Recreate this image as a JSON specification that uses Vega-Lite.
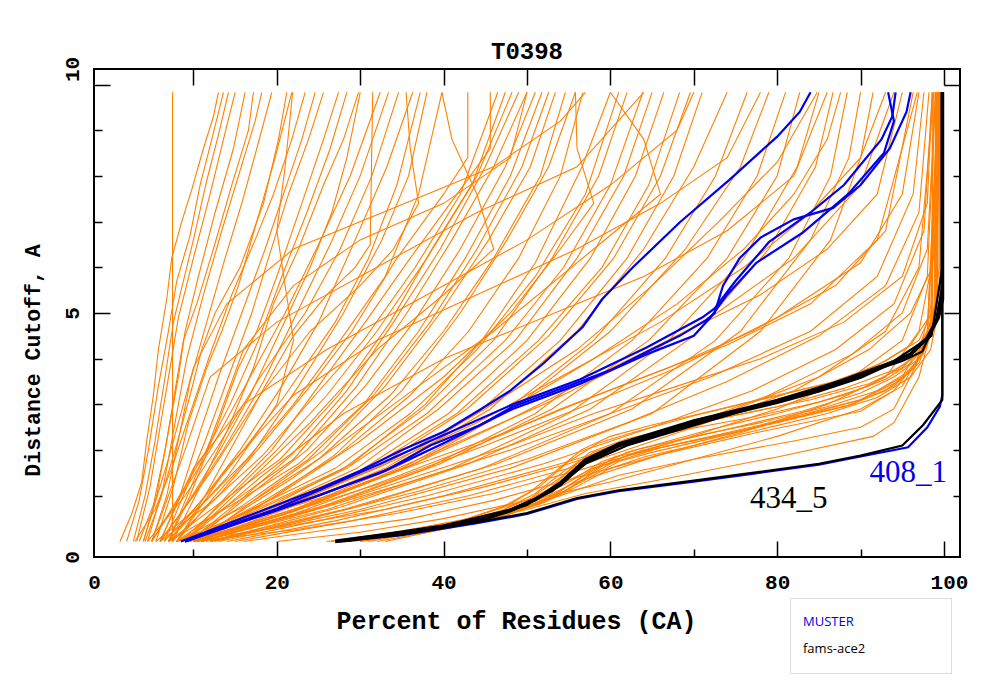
{
"$schema":"https://vega.github.io/schema/vega-lite/v6.json",
"autosize":{"type":"none"},
"padding":{"left":94,"top":69,"right":40,"bottom":143},
"width":866,"height":488,
"title":{"text":"T0398","font":"Liberation Mono","fontSize":24,"fontWeight":"bold","anchor":"middle","baseline":"alphabetic","offset":9,"dy":36,"color":"black"},
"config":{"view":{"stroke":"black","strokeWidth":2},"axis":{"labelFont":"Liberation Mono","titleFont":"Liberation Mono","labelColor":"black","titleColor":"black"}},
"datasets":{
"orange":[
{"s":"L1","x":7.5,"y":0},{"s":"L1","x":7.5,"y":9.83},
{"s":"L2","x":1.2,"y":0},{"s":"L2","x":2.6,"y":0.6},{"s":"L2","x":3.8,"y":1.3},{"s":"L2","x":4.4,"y":2.2},{"s":"L2","x":5.2,"y":3.2},{"s":"L2","x":5.8,"y":4.2},{"s":"L2","x":6.8,"y":5.3},{"s":"L2","x":7.4,"y":6.2},{"s":"L2","x":8.6,"y":7.0},{"s":"L2","x":9.8,"y":7.7},{"s":"L2","x":11.2,"y":8.6},{"s":"L2","x":12.4,"y":9.3},{"s":"L2","x":13,"y":9.83},
{"s":"L3","x":2,"y":0},{"s":"L3","x":3.5,"y":0.9},{"s":"L3","x":4.6,"y":2},{"s":"L3","x":5.8,"y":3.4},{"s":"L3","x":7,"y":4.6},{"s":"L3","x":8,"y":5.7},{"s":"L3","x":9.6,"y":6.7},{"s":"L3","x":10.8,"y":7.8},{"s":"L3","x":12.2,"y":8.8},{"s":"L3","x":13.6,"y":9.83},
{"s":"L4","x":2.8,"y":0},{"s":"L4","x":4.2,"y":1},{"s":"L4","x":5.4,"y":2.2},{"s":"L4","x":6.6,"y":3.6},{"s":"L4","x":7.6,"y":4.8},{"s":"L4","x":8.4,"y":5.4},{"s":"L4","x":10,"y":6.6},{"s":"L4","x":11.6,"y":7.9},{"s":"L4","x":13,"y":8.9},{"s":"L4","x":14.2,"y":9.83},
{"s":"L5","x":3.2,"y":0},{"s":"L5","x":4.8,"y":1.2},{"s":"L5","x":6,"y":2.5},{"s":"L5","x":7.2,"y":3.8},{"s":"L5","x":8.2,"y":4.9},{"s":"L5","x":10,"y":6.2},{"s":"L5","x":12,"y":7.6},{"s":"L5","x":13.6,"y":8.8},{"s":"L5","x":15,"y":9.83},
{"s":"L6","x":4,"y":0},{"s":"L6","x":5.6,"y":1},{"s":"L6","x":7,"y":2.4},{"s":"L6","x":8.2,"y":3.6},{"s":"L6","x":9,"y":4.6},{"s":"L6","x":10.6,"y":5.8},{"s":"L6","x":12.6,"y":7.2},{"s":"L6","x":14.8,"y":8.6},{"s":"L6","x":16.2,"y":9.83},
{"s":"L7","x":3.5,"y":0},{"s":"L7","x":5.2,"y":0.8},{"s":"L7","x":6.6,"y":2},{"s":"L7","x":7.8,"y":3.3},{"s":"L7","x":8.8,"y":4.4},{"s":"L7","x":10.4,"y":5.2},{"s":"L7","x":12.4,"y":6.4},{"s":"L7","x":14.6,"y":7.8},{"s":"L7","x":16.6,"y":9},{"s":"L7","x":17.2,"y":9.83},
{"s":"L8","x":4.5,"y":0},{"s":"L8","x":6.4,"y":1.2},{"s":"L8","x":7.8,"y":2.6},{"s":"L8","x":9.2,"y":4},{"s":"L8","x":11.2,"y":5.4},{"s":"L8","x":13.4,"y":6.8},{"s":"L8","x":15.4,"y":8},{"s":"L8","x":17.4,"y":9.2},{"s":"L8","x":18.2,"y":9.83},
{"s":"L9","x":5,"y":0},{"s":"L9","x":6.8,"y":1},{"s":"L9","x":8.4,"y":2.4},{"s":"L9","x":9.6,"y":3.5},{"s":"L9","x":11.6,"y":4.8},{"s":"L9","x":13.8,"y":6.2},{"s":"L9","x":15.8,"y":7.4},{"s":"L9","x":17.6,"y":8.6},{"s":"L9","x":19.4,"y":9.83},
{"s":"L10","x":4.2,"y":0},{"s":"L10","x":6,"y":0.9},{"s":"L10","x":7.8,"y":2},{"s":"L10","x":9.6,"y":3.2},{"s":"L10","x":11,"y":4.2},{"s":"L10","x":12.6,"y":5},{"s":"L10","x":15.6,"y":6},{"s":"L10","x":18.4,"y":7.4},{"s":"L10","x":20.2,"y":8.8},{"s":"L10","x":21.2,"y":9.83},
{"s":"L11","x":5.5,"y":0},{"s":"L11","x":7.6,"y":1.2},{"s":"L11","x":9.4,"y":2.6},{"s":"L11","x":11.6,"y":3.8},{"s":"L11","x":13.4,"y":4.6},{"s":"L11","x":15.4,"y":5.6},{"s":"L11","x":17.6,"y":7},{"s":"L11","x":19.8,"y":8.4},{"s":"L11","x":21.8,"y":9.83},
{"s":"L12","x":3,"y":0},{"s":"L12","x":5.4,"y":0.7},{"s":"L12","x":7.4,"y":1.6},{"s":"L12","x":9.6,"y":2.8},{"s":"L12","x":12.2,"y":4.2},{"s":"L12","x":14.6,"y":5.4},{"s":"L12","x":17.4,"y":6.6},{"s":"L12","x":19.6,"y":7.6},{"s":"L12","x":21.8,"y":8.8},{"s":"L12","x":23.4,"y":9.83},
{"s":"L13","x":6,"y":0},{"s":"L13","x":8.4,"y":1},{"s":"L13","x":10.8,"y":2.4},{"s":"L13","x":13,"y":3.6},{"s":"L13","x":15.8,"y":5},{"s":"L13","x":18.6,"y":6.4},{"s":"L13","x":20.8,"y":7.6},{"s":"L13","x":23,"y":8.8},{"s":"L13","x":24.6,"y":9.83},
{"s":"L14","x":6.5,"y":0},{"s":"L14","x":9,"y":1.1},{"s":"L14","x":11.4,"y":2.2},{"s":"L14","x":14.2,"y":3.6},{"s":"L14","x":17,"y":5},{"s":"L14","x":19,"y":6.2},{"s":"L14","x":21.4,"y":7.6},{"s":"L14","x":23.8,"y":8.8},{"s":"L14","x":25.6,"y":9.83},
{"s":"L15","x":7,"y":0},{"s":"L15","x":9.6,"y":1},{"s":"L15","x":12.6,"y":2.4},{"s":"L15","x":15.4,"y":3.8},{"s":"L15","x":17.6,"y":4.6},{"s":"L15","x":20,"y":5.8},{"s":"L15","x":23,"y":7.4},{"s":"L15","x":25.6,"y":8.8},{"s":"L15","x":27.4,"y":9.83},
{"s":"L16","x":5,"y":0},{"s":"L16","x":8,"y":0.9},{"s":"L16","x":11.6,"y":2},{"s":"L16","x":14.4,"y":3},{"s":"L16","x":17.8,"y":4.4},{"s":"L16","x":20.6,"y":5.8},{"s":"L16","x":23.6,"y":7.2},{"s":"L16","x":26.4,"y":8.6},{"s":"L16","x":28.4,"y":9.83},
{"s":"L17","x":7.5,"y":0},{"s":"L17","x":10.8,"y":1.2},{"s":"L17","x":14,"y":2.4},{"s":"L17","x":17.2,"y":3.8},{"s":"L17","x":19.6,"y":5.2},{"s":"L17","x":22.6,"y":6.4},{"s":"L17","x":25.6,"y":7.8},{"s":"L17","x":28,"y":8.8},{"s":"L17","x":29.8,"y":9.83},
{"s":"L18","x":6,"y":0},{"s":"L18","x":9.2,"y":0.8},{"s":"L18","x":13.2,"y":2},{"s":"L18","x":16.8,"y":3.2},{"s":"L18","x":20.4,"y":4.6},{"s":"L18","x":24,"y":6},{"s":"L18","x":26.6,"y":7.2},{"s":"L18","x":28.4,"y":8.4},{"s":"L18","x":30,"y":9.83},
{"s":"L19","x":8,"y":0},{"s":"L19","x":11.4,"y":1},{"s":"L19","x":15,"y":2.2},{"s":"L19","x":18.6,"y":3.4},{"s":"L19","x":22,"y":4.5},{"s":"L19","x":26,"y":5.4},{"s":"L19","x":29.4,"y":6},{"s":"L19","x":31.2,"y":6.5},{"s":"L19","x":31.5,"y":9.83},
{"s":"M1","x":5,"y":0},{"s":"M1","x":8.5,"y":1},{"s":"M1","x":12,"y":2},{"s":"M1","x":16.5,"y":3.5},{"s":"M1","x":21,"y":5},{"s":"M1","x":25,"y":6.5},{"s":"M1","x":28.8,"y":8},{"s":"M1","x":32.4,"y":9.83},
{"s":"M2","x":6,"y":0},{"s":"M2","x":10,"y":1},{"s":"M2","x":13.6,"y":2},{"s":"M2","x":18.4,"y":3.5},{"s":"M2","x":22.4,"y":5},{"s":"M2","x":26.4,"y":6.5},{"s":"M2","x":30,"y":8},{"s":"M2","x":33.4,"y":9.83},
{"s":"M3","x":4.5,"y":0},{"s":"M3","x":9,"y":1},{"s":"M3","x":13,"y":2.1},{"s":"M3","x":18,"y":3.6},{"s":"M3","x":23.4,"y":5},{"s":"M3","x":27.6,"y":6.4},{"s":"M3","x":31.4,"y":8},{"s":"M3","x":34.6,"y":9.83},
{"s":"M4","x":7,"y":0},{"s":"M4","x":11.4,"y":1},{"s":"M4","x":15.6,"y":2},{"s":"M4","x":20.6,"y":3.4},{"s":"M4","x":25,"y":4.8},{"s":"M4","x":29.4,"y":6.6},{"s":"M4","x":33.2,"y":8.2},{"s":"M4","x":36.3,"y":9.83},
{"s":"M5","x":6.5,"y":0},{"s":"M5","x":11,"y":0.9},{"s":"M5","x":16,"y":2},{"s":"M5","x":21,"y":3.2},{"s":"M5","x":27,"y":4.8},{"s":"M5","x":31,"y":6.2},{"s":"M5","x":34.4,"y":7.8},{"s":"M5","x":37.2,"y":9.83},
{"s":"M6","x":8,"y":0},{"s":"M6","x":12.6,"y":1},{"s":"M6","x":17,"y":1.9},{"s":"M6","x":22.6,"y":3.4},{"s":"M6","x":28,"y":5},{"s":"M6","x":32.6,"y":6.6},{"s":"M6","x":35.8,"y":8},{"s":"M6","x":38,"y":9.83},
{"s":"M7","x":5.5,"y":0},{"s":"M7","x":11,"y":0.8},{"s":"M7","x":16.4,"y":1.8},{"s":"M7","x":22,"y":3},{"s":"M7","x":27.6,"y":4.4},{"s":"M7","x":33,"y":5.8},{"s":"M7","x":37,"y":7.6},{"s":"M7","x":39.8,"y":9.83},
{"s":"M8","x":7.5,"y":0},{"s":"M8","x":13,"y":1},{"s":"M8","x":18.6,"y":2.2},{"s":"M8","x":24,"y":3.4},{"s":"M8","x":29,"y":4.6},{"s":"M8","x":34.4,"y":6.2},{"s":"M8","x":40,"y":7.6},{"s":"M8","x":42.9,"y":8.4},{"s":"M8","x":42.9,"y":9.83},
{"s":"M9","x":9,"y":0},{"s":"M9","x":14,"y":1},{"s":"M9","x":19.4,"y":2},{"s":"M9","x":25,"y":3.4},{"s":"M9","x":30.6,"y":4.8},{"s":"M9","x":36,"y":6.2},{"s":"M9","x":41.6,"y":7.6},{"s":"M9","x":45.6,"y":8.6},{"s":"M9","x":45.6,"y":9.83},
{"s":"M10","x":6,"y":0},{"s":"M10","x":12.4,"y":0.9},{"s":"M10","x":18.4,"y":1.9},{"s":"M10","x":24.6,"y":3.2},{"s":"M10","x":30.4,"y":4.4},{"s":"M10","x":36.6,"y":6},{"s":"M10","x":42,"y":7.6},{"s":"M10","x":46.5,"y":9.83},
{"s":"M11","x":8.5,"y":0},{"s":"M11","x":14.4,"y":1},{"s":"M11","x":20,"y":2},{"s":"M11","x":26,"y":3.2},{"s":"M11","x":32,"y":4.6},{"s":"M11","x":38,"y":6.2},{"s":"M11","x":43.4,"y":7.8},{"s":"M11","x":47.4,"y":9.83},
{"s":"M12","x":7,"y":0},{"s":"M12","x":13.6,"y":0.9},{"s":"M12","x":20.4,"y":1.8},{"s":"M12","x":27.4,"y":3.2},{"s":"M12","x":33.6,"y":4.8},{"s":"M12","x":38.6,"y":6.4},{"s":"M12","x":44,"y":8},{"s":"M12","x":48.2,"y":9.83},
{"s":"M13","x":9.5,"y":0},{"s":"M13","x":15.6,"y":0.9},{"s":"M13","x":21.8,"y":1.9},{"s":"M13","x":28.4,"y":3.3},{"s":"M13","x":34,"y":4.8},{"s":"M13","x":39.6,"y":6.4},{"s":"M13","x":45,"y":8.2},{"s":"M13","x":49,"y":9.83},
{"s":"M14","x":8,"y":0},{"s":"M14","x":15,"y":0.9},{"s":"M14","x":22,"y":1.8},{"s":"M14","x":29.6,"y":3.4},{"s":"M14","x":35.6,"y":5},{"s":"M14","x":41,"y":6.6},{"s":"M14","x":46,"y":8.2},{"s":"M14","x":50,"y":9.83},
{"s":"M15","x":10,"y":0},{"s":"M15","x":16.6,"y":1},{"s":"M15","x":23.6,"y":2},{"s":"M15","x":30.6,"y":3.4},{"s":"M15","x":36.4,"y":4.8},{"s":"M15","x":42,"y":6.4},{"s":"M15","x":47.4,"y":8.2},{"s":"M15","x":51,"y":9.83},
{"s":"M16","x":7,"y":0},{"s":"M16","x":14.6,"y":0.8},{"s":"M16","x":22.6,"y":1.7},{"s":"M16","x":30.4,"y":3},{"s":"M16","x":37,"y":4.6},{"s":"M16","x":42.6,"y":6.2},{"s":"M16","x":48,"y":8},{"s":"M16","x":51.8,"y":9.83},
{"s":"M17","x":9,"y":0},{"s":"M17","x":16,"y":0.8},{"s":"M17","x":23.8,"y":1.8},{"s":"M17","x":31.6,"y":3.2},{"s":"M17","x":38.4,"y":4.8},{"s":"M17","x":44,"y":6.4},{"s":"M17","x":49.4,"y":8.2},{"s":"M17","x":52.6,"y":9.83},
{"s":"M18","x":10.5,"y":0},{"s":"M18","x":18,"y":1},{"s":"M18","x":25.6,"y":2},{"s":"M18","x":33,"y":3.4},{"s":"M18","x":39.6,"y":5},{"s":"M18","x":45.4,"y":6.6},{"s":"M18","x":50.4,"y":8.2},{"s":"M18","x":53.4,"y":9.83},
{"s":"M19","x":8,"y":0},{"s":"M19","x":16.4,"y":0.8},{"s":"M19","x":25,"y":1.8},{"s":"M19","x":33.6,"y":3.2},{"s":"M19","x":40,"y":4.6},{"s":"M19","x":46,"y":6.2},{"s":"M19","x":51.6,"y":8},{"s":"M19","x":54.6,"y":9.83},
{"s":"M20","x":11,"y":0},{"s":"M20","x":19,"y":0.9},{"s":"M20","x":27,"y":1.9},{"s":"M20","x":35,"y":3.3},{"s":"M20","x":42,"y":5},{"s":"M20","x":47.6,"y":6.6},{"s":"M20","x":52.6,"y":8.2},{"s":"M20","x":55.8,"y":9.83},
{"s":"M21","x":9.5,"y":0},{"s":"M21","x":18.6,"y":0.9},{"s":"M21","x":27.4,"y":1.9},{"s":"M21","x":36,"y":3.2},{"s":"M21","x":43,"y":4.6},{"s":"M21","x":49,"y":6.2},{"s":"M21","x":54,"y":8},{"s":"M21","x":56.7,"y":9.83},
{"s":"M22","x":10,"y":0},{"s":"M22","x":19.6,"y":0.8},{"s":"M22","x":29,"y":1.7},{"s":"M22","x":37.8,"y":3},{"s":"M22","x":44.6,"y":4.4},{"s":"M22","x":51,"y":6.1},{"s":"M22","x":56.6,"y":8.2},{"s":"M22","x":60,"y":9.83},
{"s":"U1","x":9,"y":0},{"s":"U1","x":18,"y":0.8},{"s":"U1","x":27,"y":1.6},{"s":"U1","x":36,"y":2.8},{"s":"U1","x":44,"y":4.2},{"s":"U1","x":51,"y":5.8},{"s":"U1","x":57,"y":7.6},{"s":"U1","x":61,"y":9.83},
{"s":"U2","x":8,"y":0},{"s":"U2","x":18.6,"y":0.8},{"s":"U2","x":28,"y":1.6},{"s":"U2","x":37.6,"y":2.9},{"s":"U2","x":46,"y":4.4},{"s":"U2","x":53,"y":6.2},{"s":"U2","x":58.6,"y":8},{"s":"U2","x":62,"y":9.83},
{"s":"U3","x":9.5,"y":0},{"s":"U3","x":19,"y":0.8},{"s":"U3","x":28.4,"y":1.6},{"s":"U3","x":38,"y":2.8},{"s":"U3","x":47.4,"y":4.4},{"s":"U3","x":54.4,"y":6},{"s":"U3","x":60,"y":7.8},{"s":"U3","x":63.9,"y":9.83},
{"s":"U4","x":10,"y":0},{"s":"U4","x":20,"y":0.8},{"s":"U4","x":29.6,"y":1.6},{"s":"U4","x":39.4,"y":2.9},{"s":"U4","x":48.6,"y":4.4},{"s":"U4","x":56,"y":6.2},{"s":"U4","x":61.6,"y":8},{"s":"U4","x":65,"y":9.83},
{"s":"U5","x":8.5,"y":0},{"s":"U5","x":19.4,"y":0.75},{"s":"U5","x":30,"y":1.55},{"s":"U5","x":40.6,"y":2.8},{"s":"U5","x":50,"y":4.4},{"s":"U5","x":57.6,"y":6.2},{"s":"U5","x":63,"y":8},{"s":"U5","x":66.4,"y":9.83},
{"s":"U6","x":9,"y":0},{"s":"U6","x":20.4,"y":0.8},{"s":"U6","x":31,"y":1.6},{"s":"U6","x":41.6,"y":2.8},{"s":"U6","x":51.4,"y":4.4},{"s":"U6","x":59,"y":6},{"s":"U6","x":64.6,"y":7.8},{"s":"U6","x":68.3,"y":9.83},
{"s":"U7","x":10,"y":0},{"s":"U7","x":21,"y":0.8},{"s":"U7","x":31.8,"y":1.6},{"s":"U7","x":42.8,"y":2.9},{"s":"U7","x":52.6,"y":4.5},{"s":"U7","x":60.4,"y":6.2},{"s":"U7","x":66,"y":8},{"s":"U7","x":69.6,"y":9.83},
{"s":"U8","x":9,"y":0},{"s":"U8","x":21.4,"y":0.75},{"s":"U8","x":33,"y":1.6},{"s":"U8","x":44,"y":2.8},{"s":"U8","x":54,"y":4.4},{"s":"U8","x":62,"y":6.2},{"s":"U8","x":67.6,"y":8},{"s":"U8","x":71,"y":9.83},
{"s":"U9","x":10.5,"y":0},{"s":"U9","x":22.4,"y":0.8},{"s":"U9","x":34,"y":1.65},{"s":"U9","x":45.6,"y":2.9},{"s":"U9","x":56,"y":4.6},{"s":"U9","x":64,"y":6.4},{"s":"U9","x":70,"y":8.2},{"s":"U9","x":74,"y":9.83},
{"s":"U10","x":9.5,"y":0},{"s":"U10","x":22.8,"y":0.75},{"s":"U10","x":35,"y":1.6},{"s":"U10","x":47,"y":2.8},{"s":"U10","x":58,"y":4.4},{"s":"U10","x":66.6,"y":6.2},{"s":"U10","x":72.6,"y":8},{"s":"U10","x":76.4,"y":9.83},
{"s":"U11","x":11,"y":0},{"s":"U11","x":24,"y":0.8},{"s":"U11","x":36.6,"y":1.7},{"s":"U11","x":49,"y":3},{"s":"U11","x":60,"y":4.6},{"s":"U11","x":69,"y":6.4},{"s":"U11","x":75.6,"y":8.2},{"s":"U11","x":79,"y":9.83},
{"s":"U12","x":10,"y":0},{"s":"U12","x":24.4,"y":0.7},{"s":"U12","x":38,"y":1.6},{"s":"U12","x":51,"y":2.8},{"s":"U12","x":62.6,"y":4.4},{"s":"U12","x":71.6,"y":6.2},{"s":"U12","x":77.6,"y":8},{"s":"U12","x":81,"y":9.83},
{"s":"U13","x":11,"y":0},{"s":"U13","x":25.6,"y":0.75},{"s":"U13","x":39.6,"y":1.7},{"s":"U13","x":53,"y":2.9},{"s":"U13","x":64.6,"y":4.4},{"s":"U13","x":74,"y":6.2},{"s":"U13","x":80,"y":8},{"s":"U13","x":82.7,"y":9.83},
{"s":"U14","x":10.5,"y":0},{"s":"U14","x":26,"y":0.7},{"s":"U14","x":41,"y":1.6},{"s":"U14","x":55,"y":2.8},{"s":"U14","x":67,"y":4.4},{"s":"U14","x":76,"y":6.2},{"s":"U14","x":82.4,"y":8.2},{"s":"U14","x":85,"y":9.83},
{"s":"U15","x":12,"y":0},{"s":"U15","x":27.6,"y":0.75},{"s":"U15","x":43,"y":1.7},{"s":"U15","x":57.6,"y":2.9},{"s":"U15","x":70,"y":4.5},{"s":"U15","x":79,"y":6.4},{"s":"U15","x":84.6,"y":8.2},{"s":"U15","x":86.7,"y":9.83},
{"s":"U16","x":11.5,"y":0},{"s":"U16","x":28,"y":0.7},{"s":"U16","x":44.6,"y":1.6},{"s":"U16","x":60,"y":2.8},{"s":"U16","x":72.6,"y":4.4},{"s":"U16","x":81.4,"y":6.2},{"s":"U16","x":86.4,"y":8},{"s":"U16","x":88.4,"y":9.83},
{"s":"U17","x":12.5,"y":0},{"s":"U17","x":29.4,"y":0.75},{"s":"U17","x":46.4,"y":1.7},{"s":"U17","x":62.6,"y":2.9},{"s":"U17","x":75.6,"y":4.6},{"s":"U17","x":84,"y":6.6},{"s":"U17","x":88.6,"y":8.4},{"s":"U17","x":90,"y":9.83},
{"s":"U18","x":12,"y":0},{"s":"U18","x":30,"y":0.7},{"s":"U18","x":48,"y":1.6},{"s":"U18","x":65,"y":2.8},{"s":"U18","x":78,"y":4.6},{"s":"U18","x":86.4,"y":6.6},{"s":"U18","x":90,"y":8.4},{"s":"U18","x":91.5,"y":9.83},
{"s":"Bl1","x":10,"y":0},{"s":"Bl1","x":20,"y":0.55},{"s":"Bl1","x":33,"y":1.3},{"s":"Bl1","x":45,"y":2.1},{"s":"Bl1","x":56,"y":2.9},{"s":"Bl1","x":68,"y":3.8},{"s":"Bl1","x":80,"y":4.9},{"s":"Bl1","x":90,"y":6.1},{"s":"Bl1","x":95,"y":7.6},{"s":"Bl1","x":97,"y":9.83},
{"s":"Bl2","x":11,"y":0},{"s":"Bl2","x":22,"y":0.55},{"s":"Bl2","x":35,"y":1.25},{"s":"Bl2","x":48,"y":2},{"s":"Bl2","x":60,"y":2.8},{"s":"Bl2","x":72,"y":3.6},{"s":"Bl2","x":84,"y":4.6},{"s":"Bl2","x":92,"y":5.8},{"s":"Bl2","x":96.3,"y":7.6},{"s":"Bl2","x":97.6,"y":9.83},
{"s":"Bl3","x":12,"y":0},{"s":"Bl3","x":24,"y":0.5},{"s":"Bl3","x":37,"y":1.1},{"s":"Bl3","x":50,"y":1.8},{"s":"Bl3","x":62,"y":2.6},{"s":"Bl3","x":74,"y":3.5},{"s":"Bl3","x":85,"y":4.5},{"s":"Bl3","x":93,"y":5.6},{"s":"Bl3","x":97,"y":7.2},{"s":"Bl3","x":98.2,"y":9.83},
{"s":"Bl4","x":13,"y":0},{"s":"Bl4","x":25,"y":0.45},{"s":"Bl4","x":38,"y":1},{"s":"Bl4","x":52,"y":1.7},{"s":"Bl4","x":65,"y":2.5},{"s":"Bl4","x":77,"y":3.3},{"s":"Bl4","x":87,"y":4.2},{"s":"Bl4","x":94,"y":5.2},{"s":"Bl4","x":97.6,"y":6.8},{"s":"Bl4","x":98.6,"y":9.83},
{"s":"Bl5","x":14,"y":0},{"s":"Bl5","x":27,"y":0.45},{"s":"Bl5","x":40,"y":1},{"s":"Bl5","x":54,"y":1.7},{"s":"Bl5","x":67,"y":2.4},{"s":"Bl5","x":79,"y":3.2},{"s":"Bl5","x":89,"y":4.1},{"s":"Bl5","x":95,"y":5},{"s":"Bl5","x":98,"y":6.4},{"s":"Bl5","x":99,"y":9.83},
{"s":"Bl6","x":15,"y":0},{"s":"Bl6","x":29,"y":0.45},{"s":"Bl6","x":43,"y":1},{"s":"Bl6","x":57,"y":1.7},{"s":"Bl6","x":70,"y":2.5},{"s":"Bl6","x":82,"y":3.3},{"s":"Bl6","x":91,"y":4.2},{"s":"Bl6","x":96,"y":5},{"s":"Bl6","x":98.6,"y":6},{"s":"Bl6","x":99.3,"y":9.83},
{"s":"Bl7","x":10,"y":0},{"s":"Bl7","x":21,"y":0.6},{"s":"Bl7","x":32,"y":1.4},{"s":"Bl7","x":42,"y":2.2},{"s":"Bl7","x":52,"y":3},{"s":"Bl7","x":62,"y":3.9},{"s":"Bl7","x":72,"y":4.9},{"s":"Bl7","x":82,"y":6.2},{"s":"Bl7","x":90,"y":7.8},{"s":"Bl7","x":94,"y":9.83},
{"s":"Bl8","x":11,"y":0},{"s":"Bl8","x":22,"y":0.6},{"s":"Bl8","x":34,"y":1.4},{"s":"Bl8","x":44,"y":2.1},{"s":"Bl8","x":54,"y":2.9},{"s":"Bl8","x":64,"y":3.6},{"s":"Bl8","x":74,"y":4.3},{"s":"Bl8","x":84,"y":5.2},{"s":"Bl8","x":92,"y":6.6},{"s":"Bl8","x":96.8,"y":9.83},
{"s":"G1","x":9,"y":0},{"s":"G1","x":20,"y":0.3},{"s":"G1","x":33,"y":0.7},{"s":"G1","x":45,"y":1.2},{"s":"G1","x":55,"y":1.7},{"s":"G1","x":65,"y":2.3},{"s":"G1","x":75,"y":2.9},{"s":"G1","x":85,"y":3.6},{"s":"G1","x":93,"y":4.6},{"s":"G1","x":97,"y":6},{"s":"G1","x":98.8,"y":9.83},
{"s":"G2","x":10,"y":0},{"s":"G2","x":22,"y":0.25},{"s":"G2","x":34,"y":0.6},{"s":"G2","x":46,"y":1.05},{"s":"G2","x":57,"y":1.6},{"s":"G2","x":68,"y":2.2},{"s":"G2","x":80,"y":2.9},{"s":"G2","x":89,"y":3.6},{"s":"G2","x":95,"y":4.4},{"s":"G2","x":98,"y":5.8},{"s":"G2","x":99,"y":9.83},
{"s":"G3","x":16,"y":0},{"s":"G3","x":26,"y":0.25},{"s":"G3","x":36,"y":0.5},{"s":"G3","x":46,"y":0.9},{"s":"G3","x":56,"y":1.4},{"s":"G3","x":66,"y":1.9},{"s":"G3","x":76,"y":2.4},{"s":"G3","x":86,"y":3},{"s":"G3","x":93,"y":3.6},{"s":"G3","x":97,"y":4.6},{"s":"G3","x":99,"y":6.5},{"s":"G3","x":99.4,"y":9.83},
{"s":"G4","x":20,"y":0},{"s":"G4","x":30,"y":0.2},{"s":"G4","x":40,"y":0.5},{"s":"G4","x":50,"y":0.9},{"s":"G4","x":60,"y":1.3},{"s":"G4","x":70,"y":1.8},{"s":"G4","x":80,"y":2.3},{"s":"G4","x":90,"y":2.9},{"s":"G4","x":95,"y":3.4},{"s":"G4","x":98,"y":4.4},{"s":"G4","x":99.5,"y":9.83},
{"s":"G5","x":9,"y":0},{"s":"G5","x":18,"y":0.4},{"s":"G5","x":28,"y":0.9},{"s":"G5","x":38,"y":1.5},{"s":"G5","x":48,"y":2.1},{"s":"G5","x":58,"y":2.8},{"s":"G5","x":68,"y":3.4},{"s":"G5","x":78,"y":4},{"s":"G5","x":88,"y":4.8},{"s":"G5","x":95,"y":5.8},{"s":"G5","x":98,"y":7.4},{"s":"G5","x":98.6,"y":9.83},
{"s":"G6","x":8,"y":0},{"s":"G6","x":17,"y":0.5},{"s":"G6","x":27,"y":1.05},{"s":"G6","x":37,"y":1.7},{"s":"G6","x":47,"y":2.35},{"s":"G6","x":57,"y":3.1},{"s":"G6","x":67,"y":3.8},{"s":"G6","x":77,"y":4.6},{"s":"G6","x":87,"y":5.6},{"s":"G6","x":93,"y":6.8},{"s":"G6","x":96.3,"y":9.83},
{"s":"H1","x":9,"y":0},{"s":"H1","x":20,"y":0.7},{"s":"H1","x":32,"y":1.6},{"s":"H1","x":44,"y":2.6},{"s":"H1","x":56,"y":3.8},{"s":"H1","x":66,"y":4.8},{"s":"H1","x":76,"y":6},{"s":"H1","x":84,"y":7.2},{"s":"H1","x":90,"y":8.4},{"s":"H1","x":93,"y":9.83},
{"s":"H2","x":10,"y":0},{"s":"H2","x":22,"y":0.65},{"s":"H2","x":34,"y":1.5},{"s":"H2","x":46,"y":2.5},{"s":"H2","x":58,"y":3.6},{"s":"H2","x":68,"y":4.5},{"s":"H2","x":78,"y":5.4},{"s":"H2","x":86,"y":6.4},{"s":"H2","x":92,"y":7.6},{"s":"H2","x":95,"y":9.83},
{"s":"H3","x":9,"y":0},{"s":"H3","x":21,"y":0.75},{"s":"H3","x":33,"y":1.7},{"s":"H3","x":45,"y":2.9},{"s":"H3","x":56,"y":4.2},{"s":"H3","x":65,"y":5.6},{"s":"H3","x":73,"y":7},{"s":"H3","x":80,"y":8.3},{"s":"H3","x":84.8,"y":9.83},
{"s":"H4","x":10,"y":0},{"s":"H4","x":22,"y":0.7},{"s":"H4","x":34,"y":1.6},{"s":"H4","x":46,"y":2.7},{"s":"H4","x":58,"y":4},{"s":"H4","x":68,"y":5.2},{"s":"H4","x":76,"y":6.4},{"s":"H4","x":82,"y":7.6},{"s":"H4","x":86,"y":8.8},{"s":"H4","x":87.6,"y":9.83},
{"s":"R1","x":28,"y":0},{"s":"R1","x":36,"y":0.2},{"s":"R1","x":44,"y":0.45},{"s":"R1","x":50,"y":0.75},{"s":"R1","x":54,"y":1.1},{"s":"R1","x":58,"y":1.6},{"s":"R1","x":62,"y":1.95},{"s":"R1","x":66,"y":2.15},{"s":"R1","x":72,"y":2.45},{"s":"R1","x":80,"y":2.8},{"s":"R1","x":88,"y":3.2},{"s":"R1","x":93,"y":3.55},{"s":"R1","x":96,"y":3.9},{"s":"R1","x":98.2,"y":4.4},{"s":"R1","x":99,"y":5},{"s":"R1","x":99,"y":9.83},
{"s":"R2","x":29,"y":0},{"s":"R2","x":37,"y":0.2},{"s":"R2","x":45,"y":0.48},{"s":"R2","x":51,"y":0.8},{"s":"R2","x":55,"y":1.15},{"s":"R2","x":59,"y":1.65},{"s":"R2","x":63,"y":1.95},{"s":"R2","x":68,"y":2.2},{"s":"R2","x":75,"y":2.5},{"s":"R2","x":83,"y":2.85},{"s":"R2","x":90,"y":3.25},{"s":"R2","x":94,"y":3.6},{"s":"R2","x":97,"y":4},{"s":"R2","x":98.6,"y":4.8},{"s":"R2","x":98.6,"y":9.83},
{"s":"R3","x":28.5,"y":0},{"s":"R3","x":38,"y":0.25},{"s":"R3","x":46,"y":0.55},{"s":"R3","x":51,"y":0.9},{"s":"R3","x":55.5,"y":1.35},{"s":"R3","x":59,"y":1.75},{"s":"R3","x":63,"y":2},{"s":"R3","x":70,"y":2.3},{"s":"R3","x":78,"y":2.6},{"s":"R3","x":86,"y":2.95},{"s":"R3","x":92,"y":3.3},{"s":"R3","x":96,"y":3.75},{"s":"R3","x":98,"y":4.3},{"s":"R3","x":99.2,"y":5.4},{"s":"R3","x":99.4,"y":9.83},
{"s":"R4","x":30,"y":0},{"s":"R4","x":39,"y":0.25},{"s":"R4","x":47,"y":0.55},{"s":"R4","x":52,"y":0.85},{"s":"R4","x":56,"y":1.2},{"s":"R4","x":60,"y":1.6},{"s":"R4","x":64,"y":1.85},{"s":"R4","x":70,"y":2.1},{"s":"R4","x":78,"y":2.45},{"s":"R4","x":86,"y":2.8},{"s":"R4","x":92,"y":3.15},{"s":"R4","x":96,"y":3.6},{"s":"R4","x":98.4,"y":4.2},{"s":"R4","x":99.5,"y":5.2},{"s":"R4","x":99.6,"y":9.83},
{"s":"R5","x":27.5,"y":0},{"s":"R5","x":36,"y":0.22},{"s":"R5","x":45,"y":0.52},{"s":"R5","x":50,"y":0.85},{"s":"R5","x":53,"y":1.2},{"s":"R5","x":56,"y":1.7},{"s":"R5","x":60,"y":2.05},{"s":"R5","x":65,"y":2.3},{"s":"R5","x":72,"y":2.65},{"s":"R5","x":80,"y":2.95},{"s":"R5","x":88,"y":3.35},{"s":"R5","x":94,"y":3.75},{"s":"R5","x":97,"y":4.1},{"s":"R5","x":98.8,"y":4.7},{"s":"R5","x":99.4,"y":6},{"s":"R5","x":99.5,"y":9.83},
{"s":"R6","x":31,"y":0},{"s":"R6","x":40,"y":0.3},{"s":"R6","x":48,"y":0.6},{"s":"R6","x":53,"y":0.95},{"s":"R6","x":57,"y":1.35},{"s":"R6","x":61,"y":1.75},{"s":"R6","x":65,"y":1.95},{"s":"R6","x":72,"y":2.25},{"s":"R6","x":80,"y":2.6},{"s":"R6","x":88,"y":2.95},{"s":"R6","x":93,"y":3.3},{"s":"R6","x":96.5,"y":3.8},{"s":"R6","x":98.4,"y":4.6},{"s":"R6","x":98.8,"y":9.83},
{"s":"R7","x":29,"y":0},{"s":"R7","x":38,"y":0.28},{"s":"R7","x":46,"y":0.6},{"s":"R7","x":50.5,"y":0.95},{"s":"R7","x":54,"y":1.4},{"s":"R7","x":57.5,"y":1.95},{"s":"R7","x":62,"y":2.25},{"s":"R7","x":68,"y":2.5},{"s":"R7","x":76,"y":2.8},{"s":"R7","x":84,"y":3.1},{"s":"R7","x":91,"y":3.45},{"s":"R7","x":95,"y":3.8},{"s":"R7","x":97.6,"y":4.3},{"s":"R7","x":99,"y":5.2},{"s":"R7","x":99.2,"y":9.83},
{"s":"R8","x":32,"y":0},{"s":"R8","x":41,"y":0.3},{"s":"R8","x":48,"y":0.62},{"s":"R8","x":53,"y":1},{"s":"R8","x":57,"y":1.45},{"s":"R8","x":60.5,"y":1.85},{"s":"R8","x":66,"y":2.05},{"s":"R8","x":74,"y":2.35},{"s":"R8","x":82,"y":2.7},{"s":"R8","x":89,"y":3},{"s":"R8","x":94,"y":3.4},{"s":"R8","x":97,"y":3.9},{"s":"R8","x":98.8,"y":4.8},{"s":"R8","x":99,"y":9.83},
{"s":"R9","x":30,"y":0},{"s":"R9","x":40,"y":0.32},{"s":"R9","x":47,"y":0.68},{"s":"R9","x":51,"y":1.05},{"s":"R9","x":54.5,"y":1.55},{"s":"R9","x":58,"y":1.95},{"s":"R9","x":62,"y":2.2},{"s":"R9","x":69,"y":2.45},{"s":"R9","x":77,"y":2.72},{"s":"R9","x":85,"y":3.05},{"s":"R9","x":91,"y":3.4},{"s":"R9","x":95.5,"y":3.9},{"s":"R9","x":98,"y":4.6},{"s":"R9","x":99.3,"y":9.83},
{"s":"R10","x":33,"y":0},{"s":"R10","x":42,"y":0.35},{"s":"R10","x":49,"y":0.7},{"s":"R10","x":54,"y":1.05},{"s":"R10","x":58,"y":1.5},{"s":"R10","x":61.5,"y":1.85},{"s":"R10","x":67,"y":2.1},{"s":"R10","x":75,"y":2.4},{"s":"R10","x":83,"y":2.75},{"s":"R10","x":90,"y":3.1},{"s":"R10","x":94.5,"y":3.5},{"s":"R10","x":97.5,"y":4.1},{"s":"R10","x":98.9,"y":5},{"s":"R10","x":99.1,"y":9.83},
{"s":"R11","x":26,"y":0},{"s":"R11","x":34,"y":0.2},{"s":"R11","x":42,"y":0.45},{"s":"R11","x":47,"y":0.75},{"s":"R11","x":50.5,"y":1.1},{"s":"R11","x":53.5,"y":1.55},{"s":"R11","x":56.5,"y":2},{"s":"R11","x":60,"y":2.3},{"s":"R11","x":65,"y":2.55},{"s":"R11","x":72,"y":2.85},{"s":"R11","x":80,"y":3.2},{"s":"R11","x":88,"y":3.55},{"s":"R11","x":93,"y":3.95},{"s":"R11","x":97,"y":4.4},{"s":"R11","x":99,"y":5.2},{"s":"R11","x":99.4,"y":9.83},
{"s":"R12","x":26.5,"y":0},{"s":"R12","x":35,"y":0.22},{"s":"R12","x":43,"y":0.5},{"s":"R12","x":48,"y":0.82},{"s":"R12","x":51.5,"y":1.2},{"s":"R12","x":55,"y":1.75},{"s":"R12","x":58.5,"y":2.15},{"s":"R12","x":63,"y":2.4},{"s":"R12","x":70,"y":2.75},{"s":"R12","x":78,"y":3.1},{"s":"R12","x":86,"y":3.45},{"s":"R12","x":92,"y":3.85},{"s":"R12","x":96,"y":4.3},{"s":"R12","x":98.5,"y":5},{"s":"R12","x":99.2,"y":9.83},
{"s":"Lo1","x":28,"y":0},{"s":"Lo1","x":40,"y":0.3},{"s":"Lo1","x":50,"y":0.7},{"s":"Lo1","x":57,"y":1.05},{"s":"Lo1","x":66,"y":1.35},{"s":"Lo1","x":80,"y":1.85},{"s":"Lo1","x":91.5,"y":2.3},{"s":"Lo1","x":94,"y":2.6},{"s":"Lo1","x":97,"y":3.6},{"s":"Lo1","x":99,"y":5},{"s":"Lo1","x":99.5,"y":9.83},
{"s":"Lo2","x":28,"y":0},{"s":"Lo2","x":40,"y":0.35},{"s":"Lo2","x":50,"y":0.8},{"s":"Lo2","x":56,"y":1.3},{"s":"Lo2","x":66,"y":1.9},{"s":"Lo2","x":78,"y":2.4},{"s":"Lo2","x":90,"y":2.85},{"s":"Lo2","x":94,"y":3.3},{"s":"Lo2","x":97,"y":4},{"s":"Lo2","x":99,"y":5.2},{"s":"Lo2","x":99.6,"y":9.83},
{"s":"Lo3","x":29,"y":0},{"s":"Lo3","x":41,"y":0.4},{"s":"Lo3","x":50,"y":0.9},{"s":"Lo3","x":58,"y":1.6},{"s":"Lo3","x":66,"y":2.05},{"s":"Lo3","x":78,"y":2.55},{"s":"Lo3","x":90,"y":3.1},{"s":"Lo3","x":95,"y":3.6},{"s":"Lo3","x":98,"y":4.6},{"s":"Lo3","x":99.4,"y":9.83},
{"s":"Lo4","x":27,"y":0},{"s":"Lo4","x":38,"y":0.3},{"s":"Lo4","x":47,"y":0.6},{"s":"Lo4","x":54,"y":1},{"s":"Lo4","x":61,"y":1.45},{"s":"Lo4","x":70,"y":1.8},{"s":"Lo4","x":82,"y":2.2},{"s":"Lo4","x":90,"y":2.5},{"s":"Lo4","x":94,"y":2.9},{"s":"Lo4","x":96.5,"y":3.8},{"s":"Lo4","x":98.5,"y":5.2},{"s":"Lo4","x":99.2,"y":9.83},
{"s":"X1","x":6,"y":0},{"s":"X1","x":12,"y":1.5},{"s":"X1","x":18,"y":3.2},{"s":"X1","x":24,"y":4.6},{"s":"X1","x":30,"y":5.6},{"s":"X1","x":34,"y":6.4},{"s":"X1","x":37,"y":7.4},{"s":"X1","x":36,"y":8.6},{"s":"X1","x":35.5,"y":9.83},
{"s":"X2","x":9,"y":0},{"s":"X2","x":16,"y":1.2},{"s":"X2","x":24,"y":2.6},{"s":"X2","x":32,"y":4.2},{"s":"X2","x":40,"y":5.4},{"s":"X2","x":46,"y":6.4},{"s":"X2","x":44,"y":7.6},{"s":"X2","x":41,"y":8.8},{"s":"X2","x":39.8,"y":9.83},
{"s":"X3","x":10,"y":0},{"s":"X3","x":20,"y":1},{"s":"X3","x":30,"y":2.2},{"s":"X3","x":40,"y":3.6},{"s":"X3","x":48,"y":5},{"s":"X3","x":54,"y":6.4},{"s":"X3","x":58,"y":7.4},{"s":"X3","x":56,"y":8.6},{"s":"X3","x":55.8,"y":9.83},
{"s":"X4","x":7,"y":0},{"s":"X4","x":14,"y":1.4},{"s":"X4","x":20,"y":3},{"s":"X4","x":22,"y":4.4},{"s":"X4","x":21,"y":5.6},{"s":"X4","x":20,"y":6.8},{"s":"X4","x":21,"y":8.2},{"s":"X4","x":21.9,"y":9.83},
{"s":"X5","x":10,"y":0},{"s":"X5","x":22,"y":1.4},{"s":"X5","x":34,"y":3},{"s":"X5","x":46,"y":4.6},{"s":"X5","x":58,"y":6.4},{"s":"X5","x":66,"y":7.6},{"s":"X5","x":64,"y":8.8},{"s":"X5","x":60,"y":9.83},
{"s":"S1","x":5,"y":0},{"s":"S1","x":9,"y":2},{"s":"S1","x":12,"y":3.6},{"s":"S1","x":20,"y":4.8},{"s":"S1","x":32,"y":6},{"s":"S1","x":44,"y":7.2},{"s":"S1","x":56,"y":8.2},{"s":"S1","x":64,"y":9.83},
{"s":"S2","x":6,"y":0},{"s":"S2","x":10,"y":1.6},{"s":"S2","x":16,"y":3},{"s":"S2","x":26,"y":4.2},{"s":"S2","x":38,"y":5.4},{"s":"S2","x":50,"y":6.6},{"s":"S2","x":60,"y":7.8},{"s":"S2","x":68,"y":9},{"s":"S2","x":70,"y":9.83},
{"s":"S3","x":4,"y":0},{"s":"S3","x":7,"y":1.8},{"s":"S3","x":10,"y":3.8},{"s":"S3","x":14,"y":5.2},{"s":"S3","x":22,"y":6.4},{"s":"S3","x":34,"y":7.3},{"s":"S3","x":46,"y":8.2},{"s":"S3","x":54,"y":9.2},{"s":"S3","x":57,"y":9.83},
{"s":"S4","x":8,"y":0},{"s":"S4","x":14,"y":1.6},{"s":"S4","x":22,"y":3.2},{"s":"S4","x":32,"y":4.4},{"s":"S4","x":44,"y":5.4},{"s":"S4","x":56,"y":6.4},{"s":"S4","x":66,"y":7.4},{"s":"S4","x":74,"y":8.4},{"s":"S4","x":78,"y":9.83},
{"s":"S5","x":7,"y":0},{"s":"S5","x":12,"y":2.2},{"s":"S5","x":16,"y":4.2},{"s":"S5","x":22,"y":5.6},{"s":"S5","x":30,"y":6.6},{"s":"S5","x":40,"y":7.4},{"s":"S5","x":48,"y":8.4},{"s":"S5","x":50,"y":9.83},
{"s":"S6","x":9,"y":0},{"s":"S6","x":18,"y":1.4},{"s":"S6","x":28,"y":2.8},{"s":"S6","x":40,"y":4},{"s":"S6","x":52,"y":4.9},{"s":"S6","x":64,"y":5.8},{"s":"S6","x":74,"y":6.8},{"s":"S6","x":82,"y":8},{"s":"S6","x":86,"y":9.83}
],
"blue":[
{"s":"B1","g":"MUSTER","x":8.5,"y":0},{"s":"B1","g":"MUSTER","x":15,"y":0.45},{"s":"B1","g":"MUSTER","x":20,"y":0.8},{"s":"B1","g":"MUSTER","x":25,"y":1.15},{"s":"B1","g":"MUSTER","x":30,"y":1.55},{"s":"B1","g":"MUSTER","x":35,"y":2},{"s":"B1","g":"MUSTER","x":40,"y":2.4},{"s":"B1","g":"MUSTER","x":44.5,"y":2.9},{"s":"B1","g":"MUSTER","x":48,"y":3.3},{"s":"B1","g":"MUSTER","x":52,"y":3.9},{"s":"B1","g":"MUSTER","x":56.7,"y":4.7},{"s":"B1","g":"MUSTER","x":59,"y":5.3},{"s":"B1","g":"MUSTER","x":62.7,"y":6},{"s":"B1","g":"MUSTER","x":68.3,"y":6.98},{"s":"B1","g":"MUSTER","x":74.3,"y":7.92},{"s":"B1","g":"MUSTER","x":80,"y":8.86},{"s":"B1","g":"MUSTER","x":82.7,"y":9.4},{"s":"B1","g":"MUSTER","x":84,"y":9.83},
{"s":"B2","g":"MUSTER","x":9,"y":0},{"s":"B2","g":"MUSTER","x":15,"y":0.4},{"s":"B2","g":"MUSTER","x":20,"y":0.7},{"s":"B2","g":"MUSTER","x":25,"y":1},{"s":"B2","g":"MUSTER","x":30,"y":1.35},{"s":"B2","g":"MUSTER","x":33,"y":1.55},{"s":"B2","g":"MUSTER","x":38.4,"y":2.1},{"s":"B2","g":"MUSTER","x":44.4,"y":2.55},{"s":"B2","g":"MUSTER","x":48.3,"y":2.95},{"s":"B2","g":"MUSTER","x":52,"y":3.2},{"s":"B2","g":"MUSTER","x":56.4,"y":3.5},{"s":"B2","g":"MUSTER","x":60,"y":3.75},{"s":"B2","g":"MUSTER","x":64.4,"y":4.15},{"s":"B2","g":"MUSTER","x":68.3,"y":4.5},{"s":"B2","g":"MUSTER","x":71.5,"y":4.85},{"s":"B2","g":"MUSTER","x":72.5,"y":5},{"s":"B2","g":"MUSTER","x":73.5,"y":5.6},{"s":"B2","g":"MUSTER","x":75.5,"y":6.2},{"s":"B2","g":"MUSTER","x":78,"y":6.65},{"s":"B2","g":"MUSTER","x":82,"y":7.05},{"s":"B2","g":"MUSTER","x":86.7,"y":7.3},{"s":"B2","g":"MUSTER","x":90,"y":7.8},{"s":"B2","g":"MUSTER","x":93.5,"y":8.6},{"s":"B2","g":"MUSTER","x":95.5,"y":9.4},{"s":"B2","g":"MUSTER","x":96,"y":9.83},
{"s":"B3","g":"MUSTER","x":9,"y":0},{"s":"B3","g":"MUSTER","x":20,"y":0.72},{"s":"B3","g":"MUSTER","x":32.4,"y":1.7},{"s":"B3","g":"MUSTER","x":38.4,"y":2.2},{"s":"B3","g":"MUSTER","x":48.3,"y":3},{"s":"B3","g":"MUSTER","x":56.4,"y":3.55},{"s":"B3","g":"MUSTER","x":64.4,"y":4.25},{"s":"B3","g":"MUSTER","x":71,"y":4.9},{"s":"B3","g":"MUSTER","x":72.5,"y":5.1},{"s":"B3","g":"MUSTER","x":75,"y":5.7},{"s":"B3","g":"MUSTER","x":79,"y":6.55},{"s":"B3","g":"MUSTER","x":84,"y":7.2},{"s":"B3","g":"MUSTER","x":88,"y":7.8},{"s":"B3","g":"MUSTER","x":92.5,"y":8.8},{"s":"B3","g":"MUSTER","x":93.8,"y":9.3},{"s":"B3","g":"MUSTER","x":94.2,"y":9.83},
{"s":"B4","g":"MUSTER","x":9,"y":0},{"s":"B4","g":"MUSTER","x":20,"y":0.68},{"s":"B4","g":"MUSTER","x":32.4,"y":1.5},{"s":"B4","g":"MUSTER","x":40,"y":2.15},{"s":"B4","g":"MUSTER","x":48.3,"y":2.9},{"s":"B4","g":"MUSTER","x":56.4,"y":3.45},{"s":"B4","g":"MUSTER","x":64.4,"y":4.1},{"s":"B4","g":"MUSTER","x":70,"y":4.5},{"s":"B4","g":"MUSTER","x":72,"y":4.9},{"s":"B4","g":"MUSTER","x":74,"y":5.4},{"s":"B4","g":"MUSTER","x":77.5,"y":6.1},{"s":"B4","g":"MUSTER","x":83,"y":6.75},{"s":"B4","g":"MUSTER","x":88.5,"y":7.6},{"s":"B4","g":"MUSTER","x":92.8,"y":8.5},{"s":"B4","g":"MUSTER","x":94,"y":9.2},{"s":"B4","g":"MUSTER","x":93.3,"y":9.83},
{"s":"B5","g":"MUSTER","x":27.5,"y":0},{"s":"B5","g":"MUSTER","x":35,"y":0.14},{"s":"B5","g":"MUSTER","x":44,"y":0.4},{"s":"B5","g":"MUSTER","x":50,"y":0.6},{"s":"B5","g":"MUSTER","x":56,"y":0.93},{"s":"B5","g":"MUSTER","x":61,"y":1.1},{"s":"B5","g":"MUSTER","x":70,"y":1.31},{"s":"B5","g":"MUSTER","x":77,"y":1.48},{"s":"B5","g":"MUSTER","x":85,"y":1.68},{"s":"B5","g":"MUSTER","x":90,"y":1.86},{"s":"B5","g":"MUSTER","x":95.7,"y":2.06},{"s":"B5","g":"MUSTER","x":98,"y":2.5},{"s":"B5","g":"MUSTER","x":99.5,"y":2.95},{"s":"B5","g":"MUSTER","x":99.8,"y":3.2},{"s":"B5","g":"MUSTER","x":99.8,"y":9.83}
],
"black":[
{"s":"K2","g":"fams-ace2","x":27,"y":0},{"s":"K2","g":"fams-ace2","x":35,"y":0.2},{"s":"K2","g":"fams-ace2","x":44,"y":0.45},{"s":"K2","g":"fams-ace2","x":50,"y":0.8},{"s":"K2","g":"fams-ace2","x":54,"y":1.3},{"s":"K2","g":"fams-ace2","x":57,"y":1.8},{"s":"K2","g":"fams-ace2","x":61,"y":2.15},{"s":"K2","g":"fams-ace2","x":70,"y":2.65},{"s":"K2","g":"fams-ace2","x":80,"y":3.1},{"s":"K2","g":"fams-ace2","x":90,"y":3.65},{"s":"K2","g":"fams-ace2","x":95,"y":3.95},{"s":"K2","g":"fams-ace2","x":97.4,"y":4.16},{"s":"K2","g":"fams-ace2","x":99,"y":4.8},{"s":"K2","g":"fams-ace2","x":99.8,"y":5.6},{"s":"K2","g":"fams-ace2","x":99.8,"y":9.83},
{"s":"K3","g":"fams-ace2","x":28,"y":0},{"s":"K3","g":"fams-ace2","x":40,"y":0.35},{"s":"K3","g":"fams-ace2","x":48,"y":0.7},{"s":"K3","g":"fams-ace2","x":53,"y":1.1},{"s":"K3","g":"fams-ace2","x":57,"y":1.7},{"s":"K3","g":"fams-ace2","x":62,"y":2.1},{"s":"K3","g":"fams-ace2","x":72,"y":2.65},{"s":"K3","g":"fams-ace2","x":85,"y":3.35},{"s":"K3","g":"fams-ace2","x":94,"y":3.95},{"s":"K3","g":"fams-ace2","x":98.5,"y":4.5},{"s":"K3","g":"fams-ace2","x":99.8,"y":6},{"s":"K3","g":"fams-ace2","x":99.85,"y":9.83},
{"s":"K4","g":"fams-ace2","x":27.5,"y":0},{"s":"K4","g":"fams-ace2","x":35,"y":0.15},{"s":"K4","g":"fams-ace2","x":44,"y":0.42},{"s":"K4","g":"fams-ace2","x":50,"y":0.62},{"s":"K4","g":"fams-ace2","x":56,"y":0.95},{"s":"K4","g":"fams-ace2","x":61,"y":1.12},{"s":"K4","g":"fams-ace2","x":70,"y":1.33},{"s":"K4","g":"fams-ace2","x":77,"y":1.5},{"s":"K4","g":"fams-ace2","x":85,"y":1.7},{"s":"K4","g":"fams-ace2","x":90,"y":1.88},{"s":"K4","g":"fams-ace2","x":95,"y":2.1},{"s":"K4","g":"fams-ace2","x":97.5,"y":2.55},{"s":"K4","g":"fams-ace2","x":99.8,"y":3.1},{"s":"K4","g":"fams-ace2","x":99.8,"y":9.83}
],
"thick":[
{"s":"K1","g":"fams-ace2","x":27,"y":0},{"s":"K1","g":"fams-ace2","x":32,"y":0.12},{"s":"K1","g":"fams-ace2","x":40,"y":0.33},{"s":"K1","g":"fams-ace2","x":45,"y":0.5},{"s":"K1","g":"fams-ace2","x":48,"y":0.68},{"s":"K1","g":"fams-ace2","x":51,"y":0.92},{"s":"K1","g":"fams-ace2","x":54,"y":1.25},{"s":"K1","g":"fams-ace2","x":57,"y":1.75},{"s":"K1","g":"fams-ace2","x":61,"y":2.1},{"s":"K1","g":"fams-ace2","x":65,"y":2.32},{"s":"K1","g":"fams-ace2","x":70,"y":2.6},{"s":"K1","g":"fams-ace2","x":75,"y":2.83},{"s":"K1","g":"fams-ace2","x":80,"y":3.05},{"s":"K1","g":"fams-ace2","x":85,"y":3.3},{"s":"K1","g":"fams-ace2","x":90,"y":3.6},{"s":"K1","g":"fams-ace2","x":93,"y":3.85},{"s":"K1","g":"fams-ace2","x":96,"y":4.1},{"s":"K1","g":"fams-ace2","x":98,"y":4.45},{"s":"K1","g":"fams-ace2","x":99.3,"y":4.9},{"s":"K1","g":"fams-ace2","x":99.8,"y":5.3},{"s":"K1","g":"fams-ace2","x":99.8,"y":9.83}
],
"labels":[
{"t":"434_5","g":"fams-ace2","x":81.4,"y":0.73},
{"t":"408_1","g":"MUSTER","x":95.7,"y":1.31}
]
},
"layer":[
{"data":{"name":"orange"},
 "mark":{"type":"line","color":"#ff8000","strokeWidth":1.1},
 "encoding":{
  "x":{"field":"x","type":"quantitative","scale":{"domain":[-1.92,101.92],"nice":false,"zero":false},
       "axis":{"orient":"bottom","values":[10,20,30,40,50,60,70,80,90,100],"labels":false,"domain":false,"grid":false,"title":null,"tickColor":"black","tickWidth":1.5,"tickSize":{"condition":{"test":"datum.value % 20 === 0","value":-16},"value":-8}}},
  "y":{"field":"y","type":"quantitative","scale":{"domain":[-0.34,10.34],"nice":false,"zero":false},
       "axis":{"orient":"left","values":[1,2,3,4,5,6,7,8,9,10],"labels":false,"domain":false,"grid":false,"title":null,"tickColor":"black","tickWidth":1.5,"tickSize":{"condition":{"test":"datum.value % 5 === 0","value":-16},"value":-8}}},
  "detail":{"field":"s","type":"nominal"},
  "order":{"field":"y","type":"quantitative"}
 }},
{"data":{"name":"blue"},
 "mark":{"type":"line","strokeWidth":2.2},
 "encoding":{
  "x":{"field":"x","type":"quantitative","scale":{"domain":[-1.92,101.92],"nice":false,"zero":false},
       "axis":{"orient":"top","values":[10,20,30,40,50,60,70,80,90,100],"labels":false,"domain":false,"grid":false,"title":null,"tickColor":"black","tickWidth":1.5,"tickSize":-16}},
  "y":{"field":"y","type":"quantitative","scale":{"domain":[-0.34,10.34],"nice":false,"zero":false},
       "axis":{"orient":"right","values":[1,2,3,4,5,6,7,8,9,10],"labels":false,"domain":false,"grid":false,"title":null,"tickColor":"black","tickWidth":1.5,"tickSize":{"condition":{"test":"datum.value % 5 === 0","value":-16},"value":-7}}},
  "color":{"field":"g","type":"nominal","scale":{"domain":["MUSTER","fams-ace2"],"range":["#0000ee","#000000"]},
       "legend":{"orient":"none","legendX":696,"legendY":529,"title":"MUSTER","titleOrient":"right","titleOpacity":0,"titleFontSize":13,"titlePadding":14,"strokeColor":"#dddddd","fillColor":"white","padding":17,"symbolOpacity":0,"symbolSize":0,"symbolStrokeWidth":0,"labelOffset":-17,"labelFont":"Open Sans","labelFontSize":13,"rowPadding":13,"labelColor":{"expr":"datum.label == 'MUSTER' ? '#0000ee' : '#000000'"}}},
  "detail":{"field":"s","type":"nominal"},
  "order":{"field":"y","type":"quantitative"}
 }},
{"data":{"name":"black"},
 "mark":{"type":"line","strokeWidth":2.2},
 "encoding":{
  "x":{"field":"x","type":"quantitative","scale":{"domain":[-1.92,101.92],"nice":false,"zero":false},
       "axis":{"orient":"bottom","values":[-1.92,20,40,60,80,100.6],"labelExpr":"datum.value < 0 ? '0' : datum.value > 100 ? '100' : format(datum.value, 'd')","ticks":false,"domain":false,"grid":false,"labelFlush":false,"labelOverlap":false,"labelFontSize":21,"labelFontWeight":"bold","labelBaseline":"alphabetic","labelPadding":31,
       "title":"Percent of Residues (CA)","titleFontSize":25,"titleFontWeight":"bold","titleX":422,"titleY":71,"titleBaseline":"alphabetic"}},
  "y":{"field":"y","type":"quantitative","scale":{"domain":[-0.34,10.34],"nice":false,"zero":false},
       "axis":{"orient":"left","values":[-0.34,5,10.34],"labelExpr":"datum.value < 0 ? '0' : datum.value > 10 ? '10' : '5'","ticks":false,"domain":false,"grid":false,"labelFlush":false,"labelOverlap":false,"labelFontSize":21,"labelFontWeight":"bold","labelAngle":-90,"labelAlign":"center","labelBaseline":"alphabetic","labelPadding":16,
       "title":"Distance Cutoff, A","titleFontSize":21.5,"titleFontWeight":"bold","titleX":-61,"titleY":291,"titleAngle":-90,"titleBaseline":"middle"}},
  "color":{"field":"g","type":"nominal","scale":{"domain":["MUSTER","fams-ace2"],"range":["#0000ee","#000000"]}},
  "detail":{"field":"s","type":"nominal"},
  "order":{"field":"y","type":"quantitative"}
 }},
{"data":{"name":"thick"},
 "mark":{"type":"line","strokeWidth":3.8},
 "encoding":{
  "x":{"field":"x","type":"quantitative","scale":{"domain":[-1.92,101.92],"nice":false,"zero":false},"axis":null},
  "y":{"field":"y","type":"quantitative","scale":{"domain":[-0.34,10.34],"nice":false,"zero":false},"axis":null},
  "color":{"field":"g","type":"nominal","scale":{"domain":["MUSTER","fams-ace2"],"range":["#0000ee","#000000"]}},
  "detail":{"field":"s","type":"nominal"},
  "order":{"field":"y","type":"quantitative"}
 }},
{"data":{"name":"labels"},
 "mark":{"type":"text","font":"Liberation Serif","fontSize":31,"align":"center","baseline":"alphabetic"},
 "encoding":{
  "x":{"field":"x","type":"quantitative","scale":{"domain":[-1.92,101.92],"nice":false,"zero":false},"axis":null},
  "y":{"field":"y","type":"quantitative","scale":{"domain":[-0.34,10.34],"nice":false,"zero":false},"axis":null},
  "text":{"field":"t","type":"nominal"},
  "color":{"field":"g","type":"nominal","scale":{"domain":["MUSTER","fams-ace2"],"range":["#0000ee","#000000"]}}
 }}
],
"resolve":{"axis":{"x":"independent","y":"independent"}}
}
